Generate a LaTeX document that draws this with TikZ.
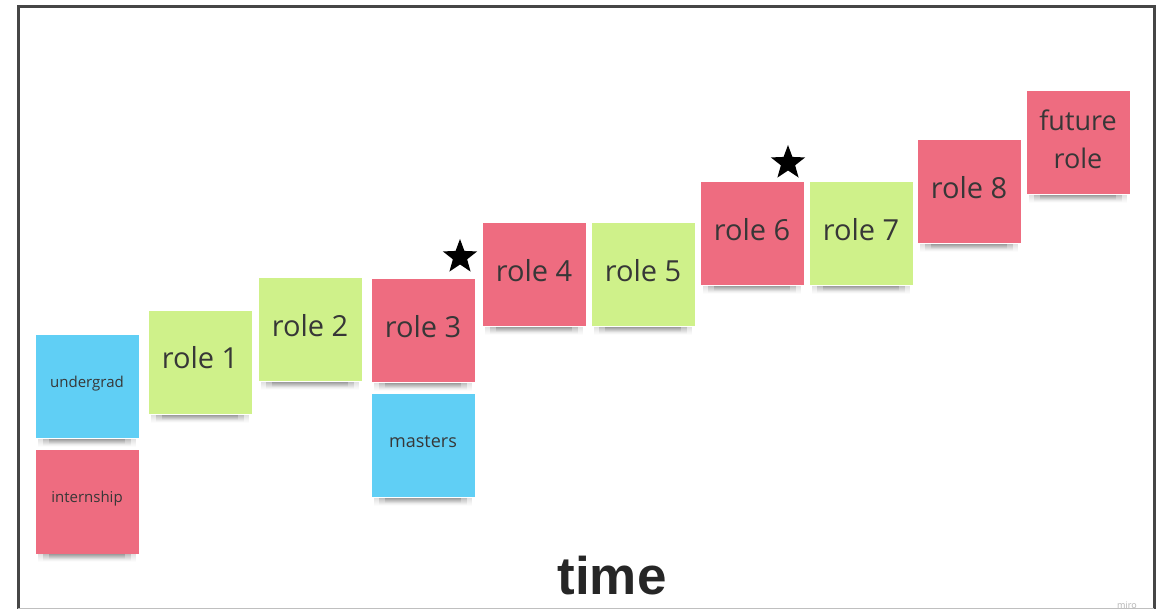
\documentclass[tikz,border=0pt]{standalone}
\usepackage{fontspec}
\setmainfont{Open Sans}
\newfontfamily\timefont{Liberation Sans}
\usetikzlibrary{shapes.geometric,fadings}
\definecolor{notepink}{RGB}{238,108,128}
\definecolor{notegreen}{RGB}{207,241,138}
\definecolor{noteblue}{RGB}{96,207,245}
\definecolor{notetext}{RGB}{55,55,55}
\definecolor{framegray}{RGB}{70,70,70}
\newcommand\noteshadow[1]{%
  \fill[black, opacity=0.12, path fading=south] ([xshift=3pt]#1.south west) rectangle ([xshift=-3pt,yshift=-8pt]#1.south east);%
  \fill[black, opacity=0.16, path fading=south] ([xshift=8pt]#1.south west) rectangle ([xshift=-8pt,yshift=-7pt]#1.south east);%
  \fill[black, opacity=0.18, path fading=south] ([xshift=14pt]#1.south west) rectangle ([xshift=-14pt,yshift=-5pt]#1.south east);%
}
\begin{document}
\begin{tikzpicture}[x=1pt,y=-1pt,
  note/.style={minimum width=103pt, minimum height=103pt, inner sep=0pt, draw=none},
  pinknote/.style={note, fill=notepink},
  greennote/.style={note, fill=notegreen},
  bluenote/.style={note, fill=noteblue},
  biglbl/.style={text=notetext, font=\fontsize{29}{36}\selectfont, align=center, inner sep=0pt},
  smalllbl/.style={text=notetext, font=\fontsize{15}{18}\selectfont, inner sep=0pt},
  starmark/.style={star, star points=5, star point ratio=2.4, fill=black, minimum size=36pt, inner sep=0pt}]
\useasboundingbox (0,0) rectangle (1168,609);
\fill[white] (0,0) rectangle (1168,609);
% frame
\draw[framegray, line width=3pt] (18,609) -- (18,7) -- (1154,7) -- (1154,609);
\draw[black!25, line width=0.8pt] (18,608) -- (1154,608);
% notes
\node[bluenote] (ug) at (87,387) {};
\node[pinknote] (in) at (87,502) {};
\node[greennote] (r1) at (200,363) {};
\node[greennote] (r2) at (310,330) {};
\node[pinknote] (r3) at (423,331) {};
\node[bluenote] (ms) at (423,446) {};
\node[pinknote] (r4) at (534,275) {};
\node[greennote] (r5) at (643,275) {};
\node[pinknote] (r6) at (752,234) {};
\node[greennote] (r7) at (861,234) {};
\node[pinknote] (r8) at (969,192) {};
\node[pinknote] (fr) at (1078,143) {};
\foreach \n in {ug,in,r1,r2,r3,ms,r4,r5,r6,r7,r8,fr} {\noteshadow{\n}}
% labels
\node[smalllbl] (ugt) at ([yshift=3pt]ug.center) {undergrad};
\node[smalllbl] (int) at ([yshift=3pt]in.center) {internship};
\node[smalllbl, font=\fontsize{18}{22}\selectfont] (mst) at ([yshift=4pt]ms.center) {masters};
\node[biglbl] (r1t) at ([yshift=5pt]r1.center) {role 1};
\node[biglbl] (r2t) at ([yshift=4pt]r2.center) {role 2};
\node[biglbl] (r3t) at ([yshift=4pt]r3.center) {role 3};
\node[biglbl] (r4t) at ([yshift=4pt]r4.center) {role 4};
\node[biglbl] (r5t) at ([yshift=4pt]r5.center) {role 5};
\node[biglbl] (r6t) at ([yshift=4pt]r6.center) {role 6};
\node[biglbl] (r7t) at ([yshift=4pt]r7.center) {role 7};
\node[biglbl] (r8t) at ([yshift=4pt]r8.center) {role 8};
\node[biglbl, font=\fontsize{27}{38}\selectfont] (frt) at ([yshift=4pt]fr.center) {future\\role};
% stars
\node[starmark] (s1) at (460,257) {};
\node[starmark] (s2) at (788,163) {};
% caption
\node[font=\timefont\bfseries\fontsize{53}{60}\selectfont, text=black!85, anchor=base, inner sep=0pt] (time) at (612,594) {time};
\node[font=\fontsize{9}{10}\selectfont, text=black!30, anchor=base, inner sep=0pt] (miro) at (1127,608) {miro};
\end{tikzpicture}
\end{document}
